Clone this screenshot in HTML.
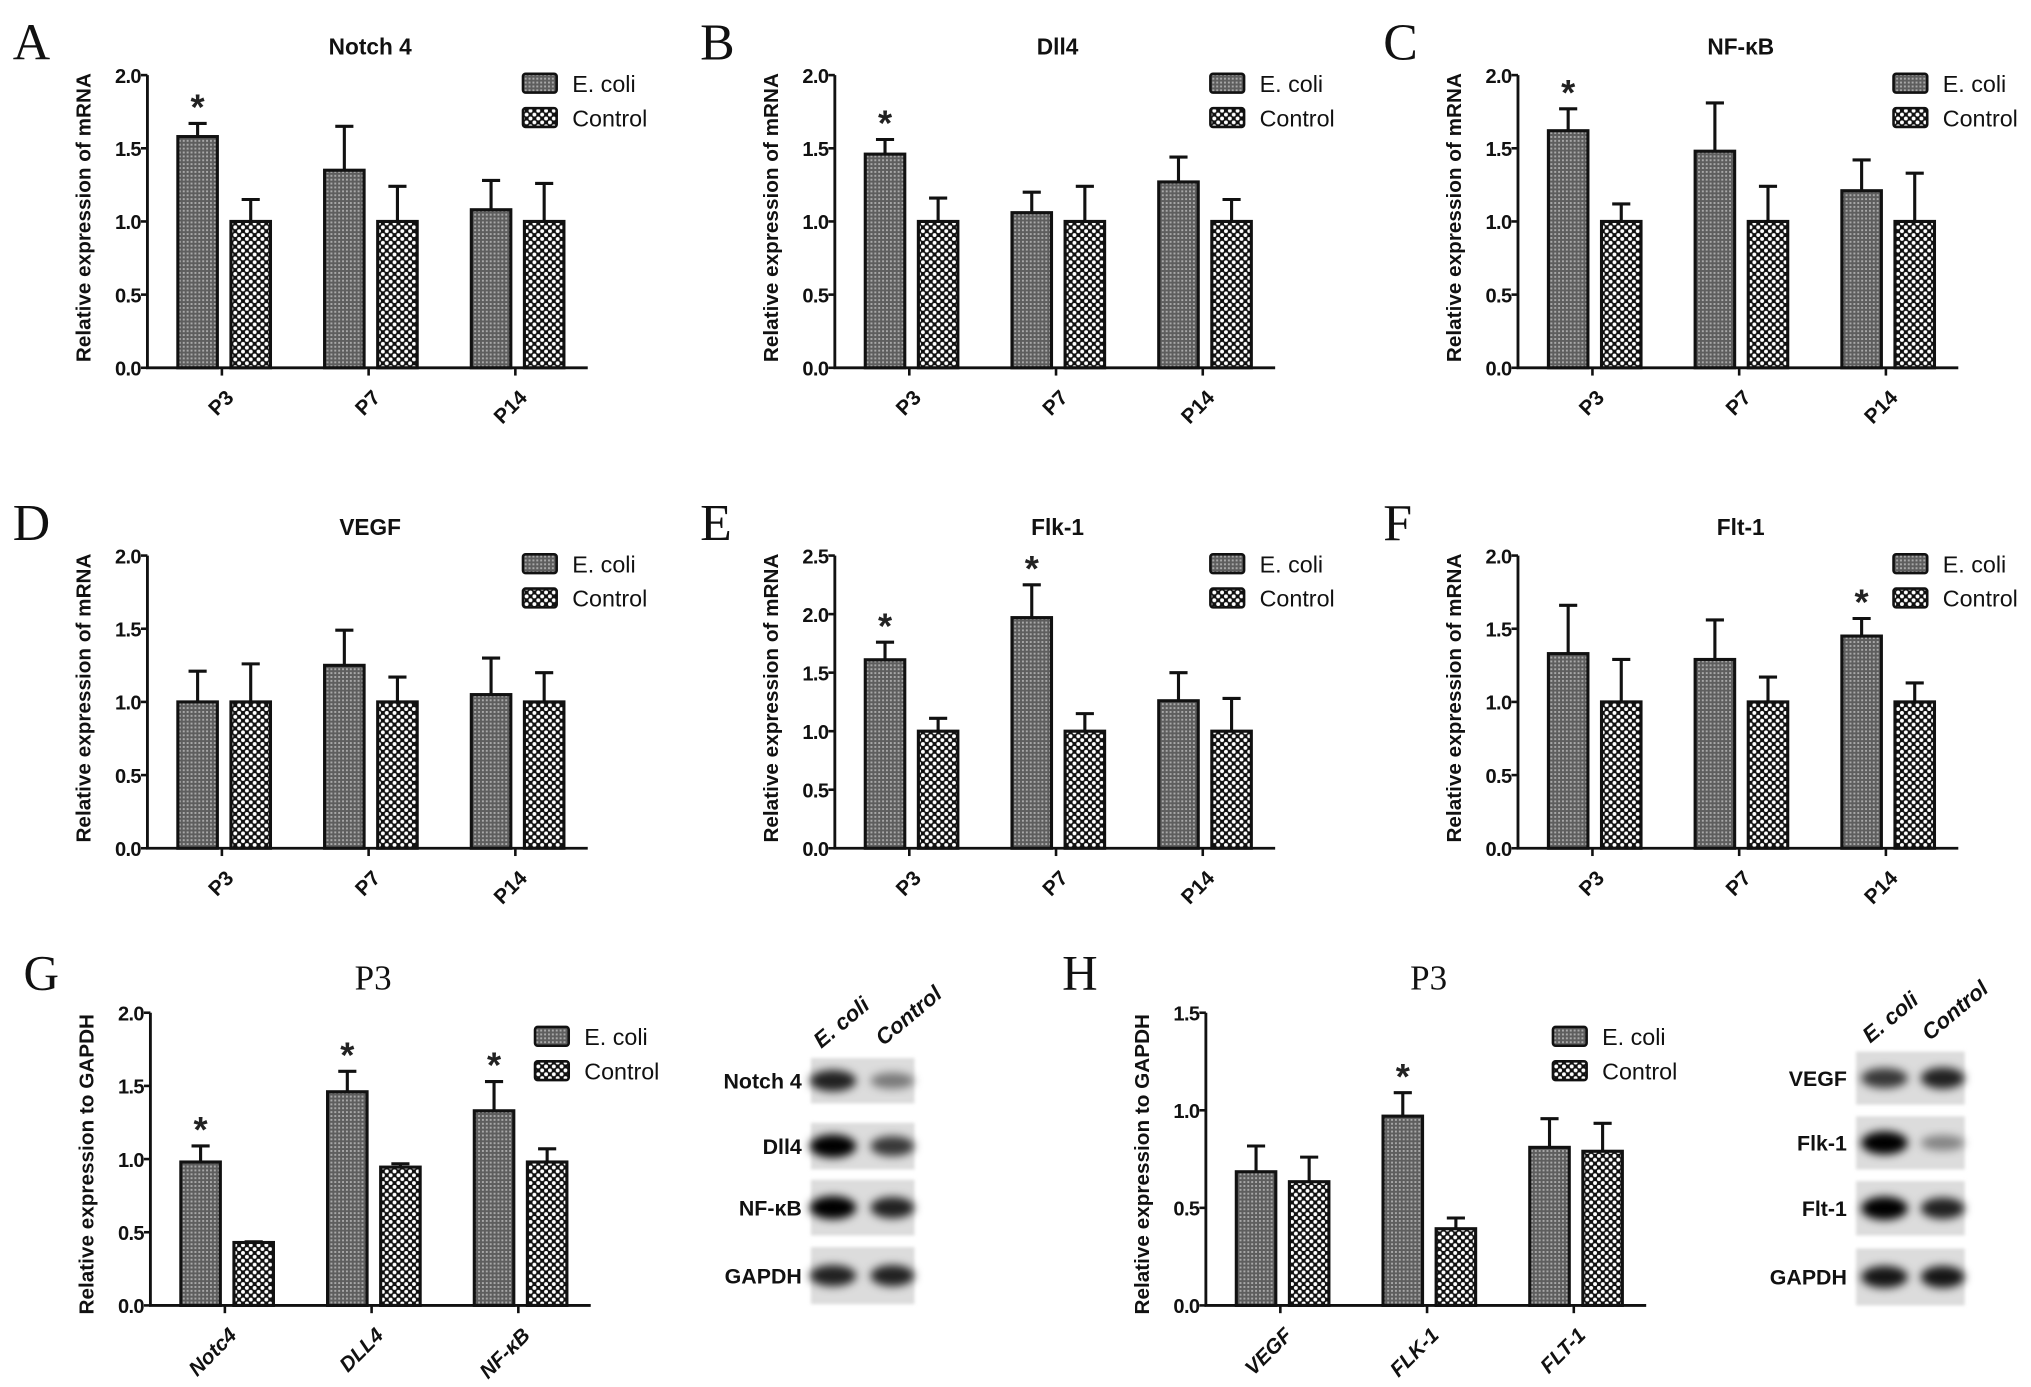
<!DOCTYPE html>
<html><head><meta charset="utf-8"><style>
html,body{margin:0;padding:0;background:#fff}
svg{display:block}
</style></head><body>
<svg id="fig" xmlns="http://www.w3.org/2000/svg" width="2031" height="1387" viewBox="0 0 1568 1071" font-family="Liberation Sans, Arial, sans-serif">
<defs>
<pattern id="pE" width="3" height="3" patternUnits="userSpaceOnUse"><rect width="3" height="3" fill="#5e5e5e"/><rect x="0" y="0" width="1.5" height="1.5" fill="#a8a8a8"/></pattern>
<pattern id="pC" width="6" height="6" patternUnits="userSpaceOnUse"><rect width="6" height="6" fill="#111"/><circle cx="1.5" cy="1.5" r="1.5" fill="#fff"/><circle cx="4.5" cy="4.5" r="1.5" fill="#fff"/></pattern>
<filter id="blur" x="-50%" y="-50%" width="200%" height="200%"><feGaussianBlur stdDeviation="3.5"/></filter>
<filter id="blur2"><feGaussianBlur stdDeviation="1.2"/></filter>
</defs>
<g id="root"></g>
</svg>
<script>
// ---- data ----
const catsP = ["P3","P7","P14"];
const notchE = [1.58,1.35,1.08], notchEErr = [1.67,1.65,1.28];
const notchC = [1.0,1.0,1.0], notchCErr = [1.15,1.24,1.26];
const notchStars = [1,0,0];
const dll4E = [1.46,1.06,1.27], dll4EErr = [1.56,1.20,1.44];
const dll4C = [1.0,1.0,1.0], dll4CErr = [1.16,1.24,1.15];
const dll4Stars = [1,0,0];
const nfkbE = [1.62,1.48,1.21], nfkbEErr = [1.77,1.81,1.42];
const nfkbC = [1.0,1.0,1.0], nfkbCErr = [1.12,1.24,1.33];
const nfkbStars = [1,0,0];
const vegfE = [1.0,1.25,1.05], vegfEErr = [1.21,1.49,1.30];
const vegfC = [1.0,1.0,1.0], vegfCErr = [1.26,1.17,1.20];
const vegfStars = [0,0,0];
const flk1E = [1.61,1.97,1.26], flk1EErr = [1.76,2.25,1.50];
const flk1C = [1.0,1.0,1.0], flk1CErr = [1.11,1.15,1.28];
const flk1Stars = [1,1,0];
const flt1E = [1.33,1.29,1.45], flt1EErr = [1.66,1.56,1.57];
const flt1C = [1.0,1.0,1.0], flt1CErr = [1.29,1.17,1.13];
const flt1Stars = [0,0,1];
const catsG = ["Notc4","DLL4","NF-\u03BAB"];
const gE = [0.98,1.46,1.33], gEErr = [1.09,1.60,1.53];
const gC = [0.43,0.945,0.98], gCErr = [0.435,0.968,1.07];
const gStars = [1,1,1];
const catsH = ["VEGF","FLK-1","FLT-1"];
const hE = [0.685,0.97,0.81], hEErr = [0.817,1.09,0.957];
const hC = [0.634,0.393,0.79], hCErr = [0.76,0.448,0.933];
const hStars = [0,1,0];
const ticks2 = ["0.0","0.5","1.0","1.5","2.0"];
const ticks25 = ["0.0","0.5","1.0","1.5","2.0","2.5"];
const ticks15 = ["0.0","0.5","1.0","1.5"];
const blotGLabels = ["Notch 4","Dll4","NF-\u03BAB","GAPDH"];
const blotGEcoli = [0.85,1.0,1.0,0.85];
const blotGCtrl = [0.45,0.75,0.85,0.85];
const blotHLabels = ["VEGF","Flk-1","Flt-1","GAPDH"];
const blotHEcoli = [0.75,1.0,1.0,0.9];
const blotHCtrl = [0.85,0.4,0.85,0.9];

const NS="http://www.w3.org/2000/svg";
const root=document.getElementById('root');
const SERIF='Liberation Serif, serif';
function mk(tag,attrs,parent,txt){const e=document.createElementNS(NS,tag);for(const k in attrs)e.setAttribute(k,attrs[k]);if(txt!==undefined)e.textContent=txt;(parent||root).appendChild(e);return e;}

function panel(o){
  const g=mk('g',{});
  
  
  const H=226, x0=o.x0, y0=o.y0;
  const yS=v=>y0-v/o.ymax*H;
  const xS=i=>x0+57.5+i*113.3;
  const L=mk('text',{x:o.lx,y:o.ly,'font-family':SERIF,'font-size':o.lsize||40,fill:'#111'},g,o.letter);
  
  
  const tAttrs={x:x0+172,y:o.ty,'text-anchor':'middle',fill:'#111'};
  if(o.serifTitle){tAttrs['font-family']=SERIF;tAttrs['font-size']=27;}else{tAttrs['font-weight']='bold';tAttrs['font-size']=17.5;}
  const T=mk('text',tAttrs,g,o.title);
  
  
  const yc=y0-(o.ylabOff||116);
  const YT=mk('text',{x:x0-44,y:yc,'text-anchor':'middle','font-weight':'bold','font-size':16,fill:'#111',transform:`rotate(-90 ${x0-44} ${yc})`},g,o.ytitle);
  
  
  const ax=mk('path',{d:`M${x0} ${yS(o.ymax)}V${y0}H${x0+340}`,stroke:'#111','stroke-width':2.2,fill:'none'},g);
  
  
  o.ticks.forEach((t,i)=>{
    const v=parseFloat(t), y=yS(v);
    mk('line',{x1:x0-5,x2:x0,y1:y,y2:y,stroke:'#111','stroke-width':2},g);
    const tl=mk('text',{x:x0-5,y:y+6,'text-anchor':'end','font-weight':'bold','font-size':15.5,'letter-spacing':'-0.5',fill:'#111'},g,t);
    
    
  });
  o.cats.forEach((c,i)=>{
    const cx=xS(i);
    mk('line',{x1:cx,x2:cx,y1:y0,y2:y0+6,stroke:'#111','stroke-width':2},g);
    const xl=mk('text',{x:cx+10,y:y0+24,'text-anchor':'end','font-weight':'bold','font-style':o.italicCats?'italic':'normal','font-size':16,fill:'#111',transform:`rotate(-45 ${cx+10} ${y0+24})`},g,c);
    
    
    [[o.e,o.eErr,'url(#pE)',-34,'bar-ecoli'],[o.c,o.cErr,'url(#pC)',7,'bar-control']].forEach(([vals,errs,fill,off,nm])=>{
      const bx=cx+off, bw=30.5, tp=yS(vals[i]), et=yS(errs[i]);
      const eb=mk('path',{d:`M${bx+bw/2} ${tp}V${et}M${bx+bw/2-7} ${et}H${bx+bw/2+7}`,stroke:'#111','stroke-width':2.4,fill:'none'},g);
      
      
      const r=mk('rect',{x:bx,y:tp,width:bw,height:y0-tp,fill:fill,stroke:'#111','stroke-width':2.4},g);
      
      
    });
    if(o.stars[i]){
      const st=mk('text',{x:cx-34+15.25,y:yS(o.eErr[i])-3,'text-anchor':'middle','font-weight':'bold','font-size':28,fill:'#222'},g,'*');
      
      
    }
  });
  const lx=o.legX, ly=o.legY;
  [['url(#pE)','E. coli',0],['url(#pC)','Control',26.5]].forEach(([f,t,dy])=>{
    const lg=mk('g',{},g);
    
    
    mk('rect',{x:lx,y:ly+dy,width:26,height:14.5,rx:2,fill:f,stroke:'#111','stroke-width':2},lg);
    mk('text',{x:lx+38,y:ly+dy+14,'font-size':18,fill:'#111'},lg,t);
  });
}

const topPanels=[
 {name:'panel-a-notch4',letter:'A',title:'Notch 4',e:notchE,eErr:notchEErr,c:notchC,cErr:notchCErr,stars:notchStars,ymax:2,ticks:ticks2},
 {name:'panel-b-dll4',letter:'B',title:'Dll4',e:dll4E,eErr:dll4EErr,c:dll4C,cErr:dll4CErr,stars:dll4Stars,ymax:2,ticks:ticks2},
 {name:'panel-c-nfkb',letter:'C',title:'NF-\u03BAB',e:nfkbE,eErr:nfkbEErr,c:nfkbC,cErr:nfkbCErr,stars:nfkbStars,ymax:2,ticks:ticks2},
 {name:'panel-d-vegf',letter:'D',title:'VEGF',e:vegfE,eErr:vegfEErr,c:vegfC,cErr:vegfCErr,stars:vegfStars,ymax:2,ticks:ticks2},
 {name:'panel-e-flk1',letter:'E',title:'Flk-1',e:flk1E,eErr:flk1EErr,c:flk1C,cErr:flk1CErr,stars:flk1Stars,ymax:2.5,ticks:ticks25},
 {name:'panel-f-flt1',letter:'F',title:'Flt-1',e:flt1E,eErr:flt1EErr,c:flt1C,cErr:flt1CErr,stars:flt1Stars,ymax:2,ticks:ticks2},
];
const colX=[113.7,644.5,1172];
topPanels.forEach((p,k)=>{
  const col=k%3,row=Math.floor(k/3);
  p.x0=colX[col]; p.y0=284+row*371;
  p.lx=p.x0-104; p.ly=46+row*371;
  p.ty=42+row*371; p.cats=catsP; p.ytitle='Relative expression of mRNA';
  p.legX=p.x0+290; p.legY=57+row*371;
  panel(p);
});
panel({name:'panel-g-p3',letter:'G',title:'P3',serifTitle:true,e:gE,eErr:gEErr,c:gC,cErr:gCErr,stars:gStars,ymax:2,ticks:ticks2,
  x0:116,y0:1008,lx:18,ly:764,lsize:38,ty:764,cats:catsG,italicCats:true,ytitle:'Relative expression to GAPDH',ylabOff:109,legX:413,legY:793});
panel({name:'panel-h-p3',letter:'H',title:'P3',serifTitle:true,e:hE,eErr:hEErr,c:hC,cErr:hCErr,stars:hStars,ymax:1.5,ticks:ticks15,
  x0:931,y0:1008,lx:820,ly:764,lsize:38,ty:764,cats:catsH,italicCats:true,ytitle:'Relative expression to GAPDH',ylabOff:109,legX:1199,legY:793});

function blot(name,x,w,rows,labels,ie,ic,labX,lanes,hdr){
  const g=mk('g',{});
  
  
  rows.forEach(([y1,y2],i)=>{
    mk('rect',{x:x,y:y1,width:w,height:y2-y1,fill:'#dcdcdc',filter:'url(#blur2)'},g);
    const cy=(y1+y2)/2;
    mk('ellipse',{cx:lanes[0],cy:cy,rx:18,ry:4+5*ie[i],fill:'#000','fill-opacity':ie[i],filter:'url(#blur)'},g);
    mk('ellipse',{cx:lanes[1],cy:cy,rx:17,ry:4+5*ic[i],fill:'#000','fill-opacity':ic[i],filter:'url(#blur)'},g);
    const t=mk('text',{x:labX,y:cy+6,'text-anchor':'end','font-weight':'bold','font-size':16.5,fill:'#111'},g,labels[i]);
    
    
  });
  hdr.forEach(([tx,hx,hy])=>{
    const t=mk('text',{x:hx,y:hy,'font-style':'italic','font-weight':'bold','font-size':17,fill:'#111',transform:`rotate(-40 ${hx} ${hy})`},g,tx);
    
    
  });
}
blot('western-blot-g',626,80,[[817,852],[867,903],[911,954],[963,1007]],blotGLabels,blotGEcoli,blotGCtrl,619,[643,689],[['E. coli',634,810],['Control',682,808]]);
blot('western-blot-h',1433,84,[[812,853],[862,903],[912,954],[964,1008]],blotHLabels,blotHEcoli,blotHCtrl,1426,[1455,1500],[['E. coli',1444,806],['Control',1490,804]]);
</script>
</body></html>
